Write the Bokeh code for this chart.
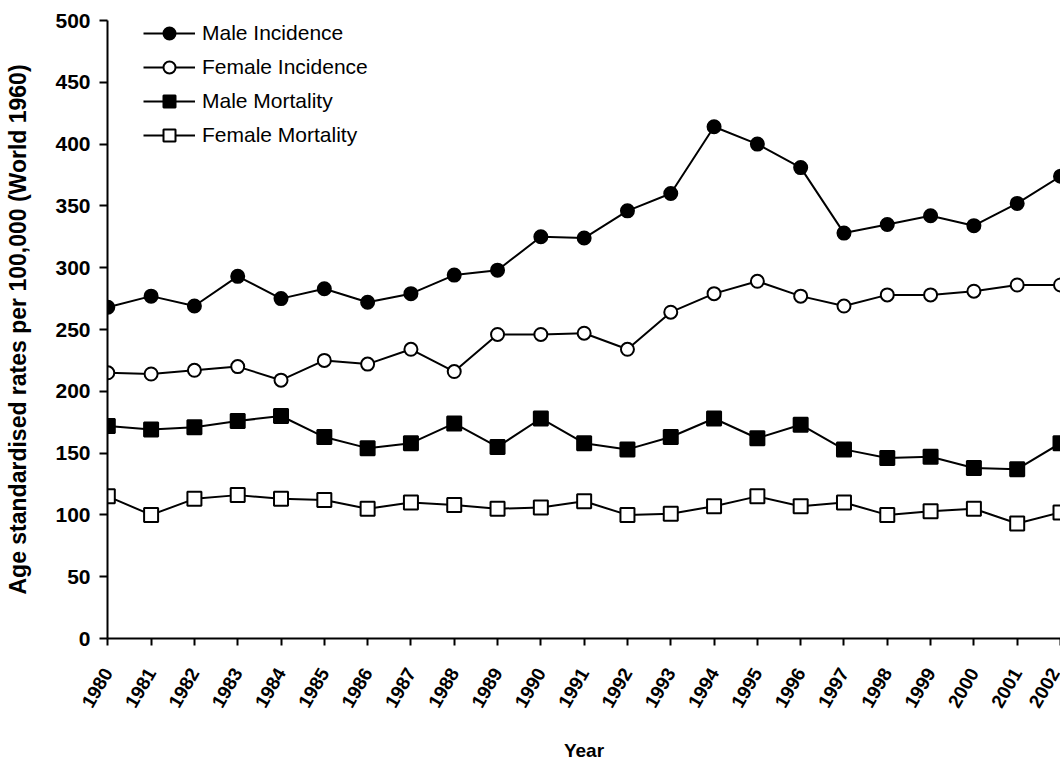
from math import pi
from bokeh.plotting import figure
from bokeh.models import FixedTicker, Range1d
from bokeh.embed import file_html
from bokeh.resources import INLINE

# ---- data ----
years = list(range(1980, 2003))
male_incidence = [268, 277, 269, 293, 275, 283, 272, 279, 294, 298, 325, 324,
                  346, 360, 414, 400, 381, 328, 335, 342, 334, 352, 374]
female_incidence = [215, 214, 217, 220, 209, 225, 222, 234, 216, 246, 246, 247,
                    234, 264, 279, 289, 277, 269, 278, 278, 281, 286, 286]
male_mortality = [172, 169, 171, 176, 180, 163, 154, 158, 174, 155, 178, 158,
                  153, 163, 178, 162, 173, 153, 146, 147, 138, 137, 158]
female_mortality = [115, 100, 113, 116, 113, 112, 105, 110, 108, 105, 106, 111,
                    100, 101, 107, 115, 107, 110, 100, 103, 105, 93, 102]
y_ticks = list(range(0, 501, 50))
series_names = ["Male Incidence", "Female Incidence", "Male Mortality", "Female Mortality"]
y_title = "Age standardised rates per 100,000 (World 1960)"
x_title = "Year"

# ---- layout ----
FONT = "Liberation Sans"
W, H = 1060, 763
LEFT, TOP, BOTTOM = 107, 20, 124
frame_w = W - LEFT
x_end = years[-1]
x_start = years[0] - 0.3 * (x_end - years[0]) / (frame_w - 0.3)

p = figure(width=W, height=H, output_backend="svg", toolbar_location=None,
           x_range=Range1d(x_start, x_end), y_range=Range1d(0, 500),
           min_border_left=LEFT, min_border_right=0, min_border_top=TOP,
           min_border_bottom=BOTTOM, background_fill_color="white",
           border_fill_color="white")
p.outline_line_color = None
p.grid.visible = False

ya = p.yaxis[0]
ya.ticker = FixedTicker(ticks=y_ticks)
ya.axis_line_width = 2
ya.major_tick_line_width = 2
ya.major_tick_out = 8
ya.major_tick_in = 0
ya.minor_tick_line_color = None
ya.major_label_standoff = 9
ya.major_label_text_font = FONT
ya.major_label_text_font_size = "21px"
ya.major_label_text_font_style = "bold"
ya.major_label_text_color = "black"
ya.axis_line_color = "black"
ya.major_tick_line_color = "black"
ya.axis_label = y_title
ya.axis_label_text_font = FONT
ya.axis_label_text_font_size = "23px"
ya.axis_label_text_font_style = "bold"
ya.axis_label_text_color = "black"
ya.axis_label_standoff = 21

xa = p.xaxis[0]
xa.ticker = FixedTicker(ticks=years)
xa.axis_line_width = 2
xa.major_tick_line_width = 2
xa.major_tick_out = 7
xa.major_tick_in = 0
xa.minor_tick_line_color = None
xa.major_label_orientation = pi / 3
xa.major_label_standoff = 24
xa.major_label_text_font = FONT
xa.major_label_text_font_size = "19px"
xa.major_label_text_font_style = "bold"
xa.major_label_text_color = "black"
xa.axis_label = x_title
xa.axis_label_text_font = FONT
xa.axis_label_text_font_size = "19px"
xa.axis_label_text_font_style = "bold"
xa.axis_label_text_color = "black"
xa.axis_label_standoff = 24
xa.axis_line_color = "black"
xa.major_tick_line_color = "black"

specs = [
    (male_incidence, "circle", "black"),
    (female_incidence, "circle", "white"),
    (male_mortality, "square", "black"),
    (female_mortality, "square", "white"),
]
for name, (vals, marker, fill) in zip(series_names, specs):
    p.line(years, vals, line_color="black", line_width=2, legend_label=name)
    p.scatter(years, vals, marker=marker, size=13 if marker == "circle" else 14,
              fill_color=fill, line_color="black", line_width=2, legend_label=name)

lg = p.legend[0]
lg.location = (36, 488)
lg.glyph_width = 52
lg.glyph_height = 30
lg.spacing = 4
lg.padding = 0
lg.margin = 0
lg.border_line_color = None
lg.background_fill_alpha = 0
lg.label_text_font = FONT
lg.label_text_font_size = "21px"
lg.label_text_color = "black"
lg.label_standoff = 7

open("out.html", "w").write(file_html(p, INLINE))
